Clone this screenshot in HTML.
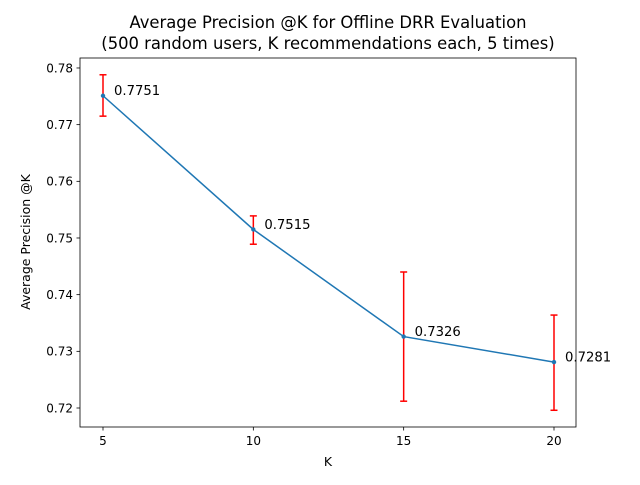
<!DOCTYPE html>
<html><head><meta charset="utf-8"><style>
body{margin:0;background:#fff}
text{font-family:"DejaVu Sans","Liberation Sans",sans-serif;fill:#000}
</style></head><body>
<svg id="chart" width="640" height="480" xmlns="http://www.w3.org/2000/svg">
<rect width="640" height="480" fill="#fff"/>
<text x="328" y="28" font-size="16.4" text-anchor="middle">Average Precision @K for Offline DRR Evaluation</text>
<text x="328" y="49" font-size="16.4" text-anchor="middle">(500 random users, K recommendations each, 5 times)</text>
<g id="axes"></g>
<rect x="80" y="58" width="496" height="369" fill="none" stroke="#000" stroke-width="0.8"/>
<text x="328" y="466" font-size="12.5" text-anchor="middle">K</text>
<text transform="translate(30,242) rotate(-90)" font-size="12.5" text-anchor="middle">Average Precision @K</text>
</svg>
<script>
const ks=[5,10,15,20];
const precision=[0.7751,0.7515,0.7326,0.7281];
const errLow=[0.7715,0.7489,0.7212,0.7196];
const errHigh=[0.7788,0.7539,0.7440,0.7364];
const xTicks=[5,10,15,20];
const yTicks=[0.72,0.73,0.74,0.75,0.76,0.77,0.78];
const NS="http://www.w3.org/2000/svg";
const g=document.getElementById('axes');
const X=k=>103+(k-5)*(451/15);
const Y=v=>408-(v-0.72)*5667;
function mk(t,a){const e=document.createElementNS(NS,t);for(const k in a)e.setAttribute(k,a[k]);g.appendChild(e);return e;}
xTicks.forEach(t=>{
 const l=mk('line',{x1:X(t),x2:X(t),y1:427,y2:430.5,stroke:'#000','stroke-width':0.8});
 
 
 const tx=mk('text',{x:X(t),y:445,'font-size':12,'text-anchor':'middle'});tx.textContent=t;
 
 
});
yTicks.forEach(t=>{
 const l=mk('line',{x1:76.5,x2:80,y1:Y(t),y2:Y(t),stroke:'#000','stroke-width':0.8});
 
 
 const tx=mk('text',{x:73,y:Y(t)+4.3,'font-size':12,'text-anchor':'end'});tx.textContent=t.toFixed(2);
 
 
});
ks.forEach((k,i)=>{
 const x=X(k);
 const e=mk('line',{x1:x,x2:x,y1:Y(errHigh[i]),y2:Y(errLow[i]),stroke:'#ff0000','stroke-width':1.5});
 
 
 [errHigh[i],errLow[i]].forEach(v=>{
  const c=mk('line',{x1:x-3.5,x2:x+3.5,y1:Y(v),y2:Y(v),stroke:'#ff0000','stroke-width':1.5});
  
  
 });
});
const p=mk('polyline',{points:ks.map((k,i)=>X(k)+','+Y(precision[i])).join(' '),fill:'none',stroke:'#1f77b4','stroke-width':1.5});


ks.forEach((k,i)=>{
 const c=mk('circle',{cx:X(k),cy:Y(precision[i]),r:2.2,fill:'#1f77b4'});
 
 
 const t=mk('text',{x:X(k)+11,y:Y(precision[i])-0.5,'font-size':13.2});t.textContent=precision[i].toFixed(4);
 
 
});
</script>
</body></html>
